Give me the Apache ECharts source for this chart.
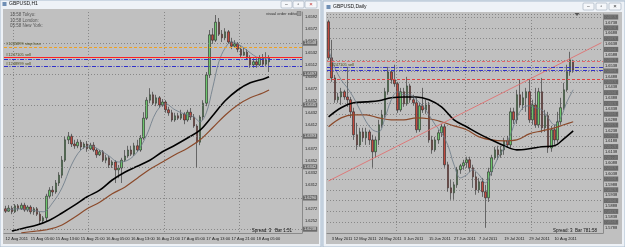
<!DOCTYPE html>
<html><head><meta charset="utf-8">
<script src="https://cdn.jsdelivr.net/npm/echarts@6/dist/echarts.min.js"></script>
<style>html,body{margin:0;padding:0;background:#dde4ec;overflow:hidden}#c{width:625px;height:247px}</style>
</head><body><div id="c"></div>
<script>
// ---------------- LEFT: GBPUSD,H1 ----------------
const leftSlotCount = 95;
const leftTickSlots = [0,8,16,24,32,40,48,56,64,72,80];
const leftTickLabels = ['12 Aug 2011','15 Aug 05:00','15 Aug 13:00','15 Aug 21:00','16 Aug 05:00','16 Aug 13:00','16 Aug 21:00','17 Aug 05:00','17 Aug 13:00','17 Aug 21:00','18 Aug 05:00'];
const leftDayStarts = [3,27,51,75];
const leftOpen = [
1.6272,1.6268,1.6273,1.6267,1.6277,1.6272,1.6278,1.6270,1.6275,1.6267,
1.6272,1.6263,1.6252,1.6257,1.6293,1.6303,1.6300,1.6315,1.6328,1.6353,
1.6387,1.6393,1.6380,1.6377,1.6383,1.6375,1.6380,1.6372,1.6378,1.6370,
1.6362,1.6367,1.6353,1.6357,1.6345,1.6350,1.6337,1.6340,1.6353,1.6360,
1.6370,1.6363,1.6377,1.6370,1.6390,1.6423,1.6453,1.6462,1.6448,1.6457,
1.6445,1.6450,1.6437,1.6432,1.6420,1.6427,1.6423,1.6430,1.6420,1.6433,
1.6425,1.6410,1.6383,1.6425,1.6448,1.6495,1.6562,1.6553,1.6583,1.6563,
1.6557,1.6567,1.6550,1.6543,1.6547,1.6538,1.6528,1.6533,1.6523,1.6512,
1.6517,1.6512,1.6523,1.6513,1.6517];
const leftClose = [
1.6268,1.6273,1.6267,1.6277,1.6272,1.6278,1.6270,1.6275,1.6267,1.6272,
1.6263,1.6252,1.6257,1.6293,1.6303,1.6300,1.6315,1.6328,1.6353,1.6387,
1.6393,1.6380,1.6377,1.6383,1.6375,1.6380,1.6372,1.6378,1.6370,1.6362,
1.6367,1.6353,1.6357,1.6345,1.6350,1.6337,1.6340,1.6353,1.6360,1.6370,
1.6363,1.6377,1.6370,1.6390,1.6423,1.6453,1.6462,1.6448,1.6457,1.6445,
1.6450,1.6437,1.6432,1.6420,1.6427,1.6423,1.6430,1.6420,1.6433,1.6425,
1.6410,1.6383,1.6425,1.6448,1.6495,1.6562,1.6553,1.6583,1.6563,1.6557,
1.6567,1.6550,1.6543,1.6547,1.6538,1.6528,1.6533,1.6523,1.6512,1.6517,
1.6512,1.6523,1.6513,1.6520,1.6523];
const leftHigh = [
1.6277,1.6278,1.6277,1.6280,1.6280,1.6282,1.6282,1.6278,1.6278,1.6275,
1.6275,1.6267,1.6260,1.6297,1.6308,1.6310,1.6320,1.6333,1.6360,1.6393,
1.6400,1.6397,1.6387,1.6388,1.6387,1.6383,1.6385,1.6382,1.6383,1.6373,
1.6370,1.6370,1.6362,1.6360,1.6353,1.6353,1.6345,1.6357,1.6370,1.6377,
1.6377,1.6382,1.6387,1.6395,1.6433,1.6458,1.6473,1.6467,1.6462,1.6460,
1.6455,1.6453,1.6442,1.6437,1.6432,1.6432,1.6437,1.6433,1.6437,1.6440,
1.6430,1.6413,1.6428,1.6453,1.6500,1.6570,1.6573,1.6595,1.6590,1.6570,
1.6573,1.6570,1.6557,1.6553,1.6550,1.6543,1.6540,1.6538,1.6528,1.6523,
1.6523,1.6528,1.6530,1.6533,1.6528];
const leftLow = [
1.6265,1.6267,1.6263,1.6265,1.6268,1.6270,1.6267,1.6267,1.6263,1.6262,
1.6260,1.6245,1.6248,1.6250,1.6290,1.6293,1.6297,1.6310,1.6323,1.6350,
1.6380,1.6375,1.6372,1.6373,1.6370,1.6372,1.6367,1.6370,1.6367,1.6357,
1.6360,1.6350,1.6348,1.6340,1.6340,1.6315,1.6323,1.6315,1.6350,1.6357,
1.6360,1.6360,1.6367,1.6367,1.6387,1.6420,1.6448,1.6445,1.6443,1.6440,
1.6442,1.6432,1.6427,1.6417,1.6417,1.6420,1.6420,1.6413,1.6417,1.6420,
1.6407,1.6340,1.6378,1.6420,1.6443,1.6490,1.6547,1.6550,1.6560,1.6550,
1.6553,1.6547,1.6538,1.6540,1.6533,1.6525,1.6527,1.6520,1.6507,1.6507,
1.6507,1.6510,1.6510,1.6510,1.6500];
const leftMaFast = [[0,1.6270],[4,1.6272],[8,1.6270],[12,1.6267],[15,1.6282],[18,1.6307],[21,1.6345],[24,1.6370],[27,1.6377],[30,1.6370],[33,1.6360],[36,1.6350],[39,1.6353],[42,1.6367],[45,1.6395],[48,1.6433],[51,1.6447],[54,1.6437],[57,1.6430],[60,1.6425],[62,1.6417],[64,1.6432],[66,1.6473],[68,1.6517],[70,1.6540],[72,1.6550],[74,1.6547],[76,1.6540],[78,1.6532],[80,1.6525],[82,1.6523],[84,1.6523]];
const leftMaMid = [[2,1.6235],[6,1.6240],[10,1.6245],[14,1.6253],[18,1.6265],[22,1.6278],[26,1.6292],[30,1.6303],[34,1.6320],[38,1.6333],[42,1.6343],[46,1.6353],[50,1.6367],[54,1.6378],[58,1.6390],[62,1.6403],[66,1.6427],[70,1.6452],[74,1.6470],[78,1.6482],[82,1.6488],[84,1.6492]];
const leftMaSlow = [[5,1.6232],[10,1.6235],[14,1.6238],[18,1.6245],[22,1.6258],[26,1.6272],[30,1.6283],[34,1.6297],[38,1.6308],[42,1.6323],[46,1.6338],[50,1.6350],[54,1.6362],[58,1.6373],[62,1.6387],[66,1.6407],[70,1.6428],[74,1.6445],[78,1.6457],[82,1.6465],[84,1.6470]];
const leftObjectLines = [1.6548,1.6497,1.6445,1.6393,1.6342,1.6290,1.6238];
const leftStopLoss = 1.6542, leftSellA = 1.6525, leftSellB = 1.6522, leftSellC = 1.6510;
const leftAskBox = 1.6528, leftBidBox = 1.6522;

// ---------------- RIGHT: GBPUSD,Daily ----------------
const rightSlotCount = 88;
const rightTickSlots = [1,8,16,24,32,40,48,56,64,72];
const rightTickLabels = ['3 May 2011','12 May 2011','24 May 2011','3 Jun 2011','15 Jun 2011','27 Jun 2011','7 Jul 2011','19 Jul 2011','29 Jul 2011','10 Aug 2011'];
const rightMonthStarts = [22,44,65];
const rightOpen = [
1.6741,1.6574,1.6481,1.6380,1.6393,1.6417,1.6393,1.6380,1.6324,1.6218,
1.6171,1.6231,1.6204,1.6231,1.6194,1.6139,1.6194,1.6264,1.6310,1.6417,
1.6509,1.6472,1.6454,1.6333,1.6417,1.6361,1.6444,1.6380,1.6366,1.6241,
1.6352,1.6333,1.6356,1.6194,1.6148,1.6194,1.6227,1.6255,1.6079,1.5972,
1.5949,1.5986,1.6056,1.6074,1.6088,1.6102,1.6065,1.6023,1.5963,1.6000,
1.5954,1.5926,1.6046,1.6111,1.6148,1.6125,1.6148,1.6190,1.6171,1.6324,
1.6287,1.6403,1.6356,1.6389,1.6417,1.6287,1.6356,1.6264,1.6417,1.6250,
1.6306,1.6157,1.6241,1.6194,1.6278,1.6343,1.6426,1.6509,1.6556];
const rightClose = [
1.6574,1.6481,1.6380,1.6393,1.6417,1.6393,1.6380,1.6324,1.6218,1.6171,
1.6231,1.6204,1.6231,1.6194,1.6139,1.6194,1.6264,1.6310,1.6417,1.6509,
1.6472,1.6454,1.6333,1.6417,1.6361,1.6444,1.6380,1.6366,1.6241,1.6352,
1.6333,1.6356,1.6194,1.6148,1.6194,1.6227,1.6255,1.6079,1.5972,1.5949,
1.5986,1.6056,1.6074,1.6088,1.6102,1.6065,1.6023,1.5963,1.6000,1.5954,
1.5926,1.6046,1.6111,1.6148,1.6125,1.6148,1.6190,1.6171,1.6324,1.6287,
1.6403,1.6356,1.6389,1.6417,1.6287,1.6356,1.6264,1.6417,1.6250,1.6306,
1.6157,1.6241,1.6194,1.6278,1.6343,1.6426,1.6509,1.6565,1.6518];
const rightHigh = [
1.6750,1.6657,1.6495,1.6412,1.6435,1.6426,1.6532,1.6393,1.6343,1.6273,
1.6250,1.6250,1.6250,1.6241,1.6218,1.6208,1.6287,1.6333,1.6435,1.6532,
1.6518,1.6542,1.6463,1.6435,1.6435,1.6486,1.6454,1.6403,1.6389,1.6366,
1.6435,1.6380,1.6370,1.6213,1.6208,1.6241,1.6268,1.6268,1.6093,1.6009,
1.6000,1.6069,1.6083,1.6102,1.6116,1.6116,1.6079,1.6046,1.6018,1.6018,
1.5986,1.6065,1.6125,1.6162,1.6167,1.6167,1.6204,1.6213,1.6343,1.6343,
1.6426,1.6472,1.6417,1.6435,1.6472,1.6380,1.6435,1.6435,1.6481,1.6333,
1.6324,1.6259,1.6264,1.6324,1.6389,1.6458,1.6542,1.6602,1.6565];
const rightLow = [
1.6565,1.6463,1.6366,1.6366,1.6356,1.6380,1.6347,1.6296,1.6194,1.6148,
1.6162,1.6185,1.6171,1.6171,1.6065,1.6111,1.6171,1.6250,1.6296,1.6403,
1.6454,1.6440,1.6319,1.6324,1.6347,1.6352,1.6366,1.6352,1.6227,1.6231,
1.6319,1.6315,1.6181,1.6130,1.6139,1.6176,1.6208,1.6065,1.5954,1.5917,
1.5917,1.5972,1.6037,1.6056,1.6065,1.6046,1.5972,1.5940,1.5949,1.5930,
1.5787,1.5907,1.6028,1.6102,1.6102,1.6111,1.6125,1.6157,1.6157,1.6268,
1.6268,1.6343,1.6333,1.6324,1.6273,1.6264,1.6250,1.6250,1.6227,1.6231,
1.6134,1.6139,1.6171,1.6181,1.6264,1.6333,1.6417,1.6491,1.6505];
const rightMaFast = [[0,1.6611],[2,1.6528],[4,1.6472],[6,1.6435],[8,1.6389],[10,1.6333],[12,1.6278],[14,1.6241],[16,1.6231],[18,1.6296],[20,1.6380],[22,1.6417],[24,1.6403],[26,1.6403],[28,1.6380],[30,1.6352],[32,1.6310],[34,1.6264],[36,1.6227],[38,1.6171],[40,1.6079],[42,1.6018],[44,1.6032],[46,1.6056],[48,1.6032],[50,1.5995],[52,1.6046],[54,1.6111],[56,1.6157],[58,1.6218],[60,1.6296],[62,1.6343],[64,1.6352],[66,1.6343],[68,1.6333],[70,1.6296],[72,1.6264],[74,1.6296],[76,1.6370],[78,1.6426]];
const rightMaMid = [[0,1.6301],[4,1.6343],[8,1.6366],[12,1.6370],[16,1.6375],[20,1.6389],[24,1.6393],[28,1.6393],[32,1.6380],[36,1.6347],[40,1.6287],[44,1.6255],[48,1.6222],[52,1.6194],[56,1.6167],[60,1.6148],[64,1.6153],[68,1.6162],[72,1.6167],[75,1.6199],[78,1.6236]];
const rightMaSlow = [[0,1.6255],[4,1.6296],[8,1.6310],[12,1.6310],[16,1.6296],[20,1.6287],[24,1.6287],[28,1.6296],[32,1.6292],[36,1.6278],[40,1.6259],[44,1.6241],[48,1.6208],[52,1.6194],[56,1.6190],[60,1.6194],[64,1.6222],[68,1.6236],[72,1.6250],[75,1.6264],[78,1.6278]];
const rightTrend = [[0,1.6004],[87,1.6644]];
const rightStopLine = 1.6556, rightSellA = 1.6532, rightSellB = 1.6516, rightTakeLine = 1.6477;
const rightAskBox = 1.6556, rightBidBox = 1.6532;

// ---------------- build ----------------
const FONT = 'Liberation Sans, Arial, sans-serif';
const GRIDC = '#7a7a7a';
const fmt4 = p => Number(p.value).toFixed(4);
const leftSlots = Array.from({length: leftSlotCount}, (_, i) => String(i));
const rightSlots = Array.from({length: rightSlotCount}, (_, i) => String(i));
const leftCandles = leftOpen.map((o, i) => [o, leftClose[i], leftLow[i], leftHigh[i]]);
const rightCandles = rightOpen.map((o, i) => [o, rightClose[i], rightLow[i], rightHigh[i]]);

function boxLabel(bg, fg) {
  return {show: true, position: 'end', distance: 1, formatter: fmt4, fontSize: 4, fontFamily: FONT,
          color: fg, backgroundColor: bg, padding: [1, 1, 0, 1]};
}
function hidden(v, bg, fg) {
  return {yAxis: v, lineStyle: {opacity: 0}, label: boxLabel(bg, fg)};
}
function textLabel(t) {
  return {show: true, position: 'insideStartTop', distance: [2, 0.5], formatter: t, fontSize: 4, fontFamily: FONT, color: '#4a4a18'};
}
const dashDot = [4, 1.5, 1, 1.5];

const leftMarks = [
  ...leftObjectLines.map(v => ({yAxis: v, lineStyle: {color: GRIDC, type: [1, 2], width: 0.8}, label: boxLabel('#6b6b6b', '#e8e8e8')})),
  {yAxis: leftStopLoss, lineStyle: {color: '#f0a020', type: [3, 2], width: 1}, label: textLabel('#1245899 stop loss')},
  {yAxis: leftSellA, lineStyle: {color: '#ff2020', type: 'solid', width: 1}, label: textLabel('#1247105 sell')},
  {yAxis: leftSellB, lineStyle: {color: '#3030c8', type: dashDot, width: 1}, label: {show: false}},
  {yAxis: leftSellC, lineStyle: {color: '#3030c8', type: dashDot, width: 1}, label: textLabel('#1248999 sell')},
  hidden(leftStopLoss, '#f0a020', '#222'),
  hidden(leftAskBox, '#ff2020', '#fff'),
  hidden(leftBidBox, '#4fae4f', '#111')
];
const rightMarks = [
  {yAxis: rightStopLine, lineStyle: {color: '#e26a6a', type: [3, 2], width: 1}, label: {show: false}},
  {yAxis: rightSellA, lineStyle: {color: '#3030c8', type: dashDot, width: 1}, label: textLabel('#1247105 sell')},
  {yAxis: rightSellB, lineStyle: {color: '#3030c8', type: dashDot, width: 1}, label: {show: false}},
  {yAxis: rightTakeLine, lineStyle: {color: '#e04040', type: [3, 2], width: 1}, label: {show: false}},
  hidden(rightAskBox, '#ff2020', '#fff'),
  hidden(rightBidBox, '#4fae4f', '#111')
];

const candleStyle = {color: '#6cc56c', color0: '#c2493e', borderColor: '#262626', borderColor0: '#262626', borderWidth: 0.6};
function maSeries(xi, yi, data, color, width) {
  return {type: 'line', xAxisIndex: xi, yAxisIndex: yi, data: data, smooth: 0.35, symbol: 'none', silent: true,
          z: 3, lineStyle: {color: color, width: width}};
}
function catAxis(gi, slots, tickSlots, tickLabels, splitSlots) {
  return {type: 'category', gridIndex: gi, data: slots, boundaryGap: true,
    axisLine: {show: true, lineStyle: {color: '#8a8a8a', width: 1}}, axisTick: {show: false},
    axisLabel: {show: true, interval: (i) => tickSlots.includes(i),
      formatter: (v, i) => { const k = tickSlots.indexOf(i); return k >= 0 ? tickLabels[k] : ''; },
      fontSize: 4, fontFamily: FONT, color: '#1a1a1a', align: 'left', margin: 4},
    splitLine: {show: true, interval: (i) => splitSlots.includes(i), lineStyle: {color: GRIDC, type: [1, 2], width: 0.8}}};
}

const option = {
  animation: false,
  backgroundColor: '#dde4ec',
  grid: [
    {left: 4, top: 12, width: 298, height: 221},
    {left: 327, top: 14, width: 276, height: 219}
  ],
  xAxis: [
    catAxis(0, leftSlots, leftTickSlots, leftTickLabels, leftDayStarts),
    catAxis(1, rightSlots, rightTickSlots, rightTickLabels, rightMonthStarts)
  ],
  yAxis: [
    {type: 'value', gridIndex: 0, position: 'right', min: 1.623167, max: 1.66, interval: 0.002,
     axisLine: {show: true, lineStyle: {color: '#8a8a8a'}}, axisTick: {show: false}, splitLine: {show: false},
     axisLabel: {fontSize: 4, fontFamily: FONT, color: '#1a1a1a', margin: 3, showMinLabel: false, showMaxLabel: false,
                 formatter: v => v.toFixed(4)}},
    {type: 'value', gridIndex: 1, position: 'right', min: 1.5763, max: 1.6777, interval: 0.005,
     axisLine: {show: true, lineStyle: {color: '#8a8a8a'}}, axisTick: {show: false},
     splitLine: {show: true, lineStyle: {color: GRIDC, type: [1, 2], width: 0.8}},
     axisLabel: {fontSize: 4, fontFamily: FONT, color: '#e8e8e8', backgroundColor: '#6b6b6b', padding: [1, 1, 0, 1],
                 margin: 1, showMinLabel: false, showMaxLabel: false, formatter: v => v.toFixed(4)}},
    {type: 'value', gridIndex: 1, position: 'right', min: 1.5763, max: 1.6777, interval: 0.0025,
     axisLine: {show: false}, axisTick: {show: false}, splitLine: {show: false},
     axisLabel: {fontSize: 4, fontFamily: FONT, color: '#1a1a1a', margin: 2, showMinLabel: false, showMaxLabel: false,
                 formatter: v => (Math.round(v * 10000) % 50 === 0 ? '' : v.toFixed(4))}}
  ],
  series: [
    {type: 'candlestick', xAxisIndex: 0, yAxisIndex: 0, data: leftCandles, barWidth: 2, itemStyle: candleStyle,
     markLine: {symbol: ['none', 'none'], precision: 4, silent: true, animation: false, data: leftMarks}},
    maSeries(0, 0, leftMaSlow, '#8b4a2b', 1.2),
    maSeries(0, 0, leftMaMid, '#000000', 1.6),
    maSeries(0, 0, leftMaFast, '#6a7887', 0.8),
    {type: 'candlestick', xAxisIndex: 1, yAxisIndex: 1, data: rightCandles, barWidth: 2, itemStyle: candleStyle,
     markLine: {symbol: ['none', 'none'], precision: 4, silent: true, animation: false, data: rightMarks}},
    maSeries(1, 1, rightMaSlow, '#8b4a2b', 1.2),
    maSeries(1, 1, rightMaMid, '#000000', 1.6),
    maSeries(1, 1, rightMaFast, '#6a7887', 0.8),
    {type: 'line', xAxisIndex: 1, yAxisIndex: 1, data: rightTrend, symbol: 'none', silent: true, z: 3,
     lineStyle: {color: '#e07272', width: 0.9}}
  ],
  graphic: {elements: [
    // left window
    {type: 'rect', z: -10, shape: {x: 0, y: 0, width: 321, height: 247}, style: {fill: '#eef2f7', stroke: '#a9bccf', lineWidth: 1}},
    {type: 'rect', z: -9, shape: {x: 3, y: 9, width: 316, height: 235}, style: {fill: '#c0c0c0'}},
    {type: 'rect', z: -8, shape: {x: 2.5, y: 2, width: 4, height: 4}, style: {fill: '#6f8fb5'}},
    {type: 'text', z: 10, x: 9, y: 4, style: {text: 'GBPUSD,H1', fontSize: 5, fontFamily: FONT, fill: '#111', textVerticalAlign: 'middle'}},
    {type: 'rect', z: -8, shape: {x: 281, y: 1, width: 11, height: 7, r: 1}, style: {fill: '#f5f7fa', stroke: '#9aa8b8', lineWidth: 0.6}},
    {type: 'rect', z: -8, shape: {x: 293, y: 1, width: 11, height: 7, r: 1}, style: {fill: '#f5f7fa', stroke: '#9aa8b8', lineWidth: 0.6}},
    {type: 'rect', z: -8, shape: {x: 305, y: 1, width: 12, height: 7, r: 1}, style: {fill: '#f5f7fa', stroke: '#9aa8b8', lineWidth: 0.6}},
    {type: 'text', z: 10, x: 286.5, y: 4.5, style: {text: '–', fontSize: 5, fill: '#333', textAlign: 'center', textVerticalAlign: 'middle'}},
    {type: 'text', z: 10, x: 298.5, y: 4.5, style: {text: '▫', fontSize: 5, fill: '#333', textAlign: 'center', textVerticalAlign: 'middle'}},
    {type: 'text', z: 10, x: 311, y: 4.5, style: {text: '×', fontSize: 6, fill: '#c03030', textAlign: 'center', textVerticalAlign: 'middle'}},
    {type: 'text', z: 10, x: 10, y: 15, style: {text: '18:58 Tokyo:', fontSize: 4.5, fontFamily: FONT, fill: '#555', textVerticalAlign: 'middle'}},
    {type: 'text', z: 10, x: 10, y: 20.5, style: {text: '10:58 London:', fontSize: 4.5, fontFamily: FONT, fill: '#555', textVerticalAlign: 'middle'}},
    {type: 'text', z: 10, x: 10, y: 26, style: {text: '05:58 New York:', fontSize: 4.5, fontFamily: FONT, fill: '#555', textVerticalAlign: 'middle'}},
    {type: 'text', z: 10, x: 266, y: 13.5, style: {text: 'visual order editor', fontSize: 4, fontFamily: FONT, fill: '#333', textVerticalAlign: 'middle'}},
    {type: 'rect', z: 10, shape: {x: 297, y: 11.5, width: 4, height: 4}, style: {fill: '#9a9a9a', stroke: '#555', lineWidth: 0.4}},
    {type: 'text', z: 10, x: 292, y: 231, style: {text: 'Spread: 3   Bar 1:51', fontSize: 4.5, fontFamily: FONT, fill: '#111', textAlign: 'right', textVerticalAlign: 'middle'}},
    // right window
    {type: 'rect', z: -10, shape: {x: 323, y: 1, width: 302, height: 246}, style: {fill: '#eef2f7', stroke: '#a9bccf', lineWidth: 1}},
    {type: 'rect', z: -9, shape: {x: 326, y: 12, width: 296, height: 232}, style: {fill: '#c0c0c0'}},
    {type: 'rect', z: -8, shape: {x: 326.5, y: 5, width: 4, height: 4}, style: {fill: '#6f8fb5'}},
    {type: 'text', z: 10, x: 333, y: 7, style: {text: 'GBPUSD,Daily', fontSize: 5, fontFamily: FONT, fill: '#111', textVerticalAlign: 'middle'}},
    {type: 'rect', z: -8, shape: {x: 583, y: 3, width: 11, height: 7, r: 1}, style: {fill: '#f5f7fa', stroke: '#9aa8b8', lineWidth: 0.6}},
    {type: 'rect', z: -8, shape: {x: 596, y: 3, width: 11, height: 7, r: 1}, style: {fill: '#f5f7fa', stroke: '#9aa8b8', lineWidth: 0.6}},
    {type: 'rect', z: -8, shape: {x: 609, y: 3, width: 12, height: 7, r: 1}, style: {fill: '#f5f7fa', stroke: '#9aa8b8', lineWidth: 0.6}},
    {type: 'text', z: 10, x: 588.5, y: 6.5, style: {text: '–', fontSize: 5, fill: '#333', textAlign: 'center', textVerticalAlign: 'middle'}},
    {type: 'text', z: 10, x: 601.5, y: 6.5, style: {text: '▫', fontSize: 5, fill: '#333', textAlign: 'center', textVerticalAlign: 'middle'}},
    {type: 'text', z: 10, x: 615, y: 6.5, style: {text: '×', fontSize: 6, fill: '#333', textAlign: 'center', textVerticalAlign: 'middle'}},
    {type: 'polygon', z: 10, shape: {points: [[574.5, 13], [579.5, 13], [577, 16]]}, style: {fill: '#555'}},
    {type: 'text', z: 10, x: 597, y: 231, style: {text: 'Spread: 3  Bar 781:58', fontSize: 4.5, fontFamily: FONT, fill: '#111', textAlign: 'right', textVerticalAlign: 'middle'}}
  ]}
};
const chart = echarts.init(document.getElementById('c'), null, {renderer: 'canvas', devicePixelRatio: 1, width: 625, height: 247});
chart.setOption(option);
</script></body></html>
